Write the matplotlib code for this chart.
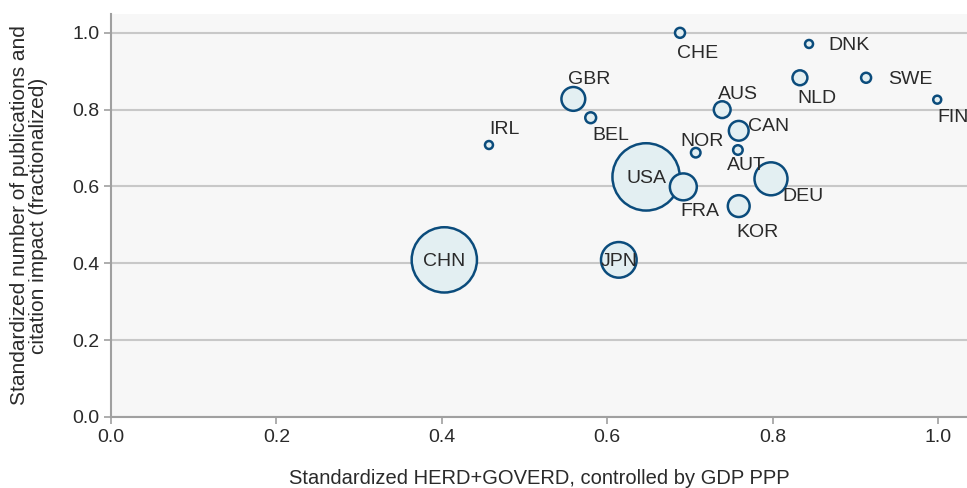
import numpy as np
import matplotlib.pyplot as plt

plt.rcParams['font.family'] = ['Liberation Sans', 'DejaVu Sans']

# Data
countries = ['USA', 'CHN', 'JPN', 'DEU', 'FRA', 'GBR', 'KOR', 'CAN', 'AUS', 'NLD',
             'BEL', 'SWE', 'CHE', 'NOR', 'AUT', 'DNK', 'FIN', 'IRL']
herd_goverd = [0.647, 0.403, 0.614, 0.798, 0.692, 0.559, 0.759, 0.759, 0.739, 0.833,
               0.580, 0.913, 0.688, 0.707, 0.758, 0.844, 0.999, 0.457]
pubs_impact = [0.625, 0.409, 0.409, 0.620, 0.599, 0.828, 0.549, 0.745, 0.800, 0.883,
               0.779, 0.883, 1.000, 0.688, 0.695, 0.971, 0.826, 0.708]
# relative bubble size (USA = 100)
rd_volume = [100, 94, 28, 24, 16, 12.5, 10.5, 8.6, 6.2, 4.9,
             2.6, 2.2, 2.2, 2.0, 2.0, 1.4, 1.4, 1.4]

# label placement (offset in points, alignment)
label_pos = {
    'USA': (0, -1, 'center'), 'CHN': (0, -1, 'center'), 'JPN': (0, -1, 'center'),
    'DEU': (8, -13, 'left'), 'FRA': (-2, -18, 'left'), 'GBR': (-4, 14, 'left'),
    'KOR': (-2, -19, 'left'), 'CAN': (7, 3, 'left'), 'AUS': (-3, 11, 'left'),
    'NLD': (-2, -15, 'left'), 'BEL': (1, -13, 'left'), 'SWE': (16, -1, 'left'),
    'CHE': (-2, -15, 'left'), 'NOR': (-11, 8, 'left'), 'AUT': (-8, -11, 'left'),
    'DNK': (14, -1, 'left'), 'FIN': (0, -13, 'left'), 'IRL': (0, 11, 'left'),
}

fig = plt.figure(figsize=(9.67, 4.88), dpi=100)
ax = fig.add_axes([0.1148, 0.1455, 0.8852, 0.8258])
ax.set_facecolor('#f7f7f7')

sizes = np.array(rd_volume) * 23.5
ax.scatter(herd_goverd, pubs_impact, s=sizes, facecolor='#e3eff2',
           edgecolor='#0b4c7c', linewidth=1.8, zorder=3)

for c, x, y in zip(countries, herd_goverd, pubs_impact):
    dx, dy, ha = label_pos[c]
    ax.annotate(c, (x, y), xytext=(dx, dy), textcoords='offset points',
                ha=ha, va='center', fontsize=14, color='#2a2a2a', zorder=4)

ax.set_xlim(0, 1.035)
ax.set_ylim(0, 1.049)
ax.set_xticks(np.arange(0, 1.01, 0.2))
ax.set_yticks(np.arange(0, 1.01, 0.2))
ax.set_xticklabels(['0.0', '0.2', '0.4', '0.6', '0.8', '1.0'])
ax.set_yticklabels(['0.0', '0.2', '0.4', '0.6', '0.8', '1.0'])
ax.yaxis.grid(True, color='#c8c8c8', linewidth=1.5, zorder=0)
ax.set_axisbelow(True)

for side in ['top', 'right']:
    ax.spines[side].set_visible(False)
for side in ['left', 'bottom']:
    ax.spines[side].set_color('#a0a0a0')
    ax.spines[side].set_linewidth(1.5)
ax.tick_params(colors='#a0a0a0', labelcolor='#2a2a2a', labelsize=14,
               length=5, width=1.2)

ax.set_xlabel('Standardized HERD+GOVERD, controlled by GDP PPP',
              fontsize=14.5, color='#2a2a2a', labelpad=17)
ax.set_ylabel('Standardized number of publications and\ncitation impact (fractionalized)',
              fontsize=15, color='#2a2a2a', labelpad=17, linespacing=1.0)

fig.savefig('out.png', dpi=100)
